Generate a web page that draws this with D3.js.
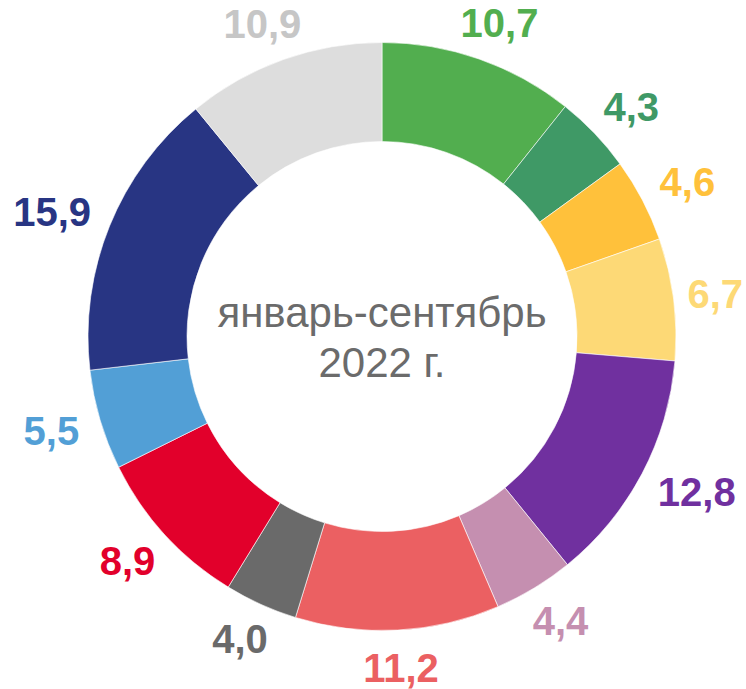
<!DOCTYPE html>
<html>
<head>
<meta charset="utf-8">
<script src="https://cdn.jsdelivr.net/npm/d3@7"></script>
<style>
  body { margin: 0; background: #fff; }
  svg { display: block; font-family: "Liberation Sans", Arial, sans-serif; }
</style>
</head>
<body>
<svg id="chart" width="746" height="689"></svg>
<script>
// shares, clockwise from 12 o'clock
const values = [10.7, 4.3, 4.6, 6.7, 12.8, 4.4, 11.2, 4.0, 8.9, 5.5, 15.9, 10.9];
const sliceColors = ["#52AE4F", "#3F9966", "#FFC13B", "#FDD976", "#70309F", "#C58FB0",
                     "#EB6062", "#6A6A6A", "#E2002B", "#529FD6", "#283583", "#DDDDDD"];
const labelColors = ["#52AE4F", "#3F9966", "#FFC13B", "#FDD976", "#70309F", "#C58FB0",
                     "#EB6062", "#6A6A6A", "#E2002B", "#529FD6", "#283583", "#C6C6C6"];
const centerLines = ["январь-сентябрь", "2022 г."];

const W = 746, H = 689;
const svg = d3.select("#chart");
const cx = 382, cy = 336.5;
const outerR = 294, innerR = 195, labelR = 317;

const g = svg.append("g").attr("transform", `translate(${cx},${cy})`);

const pie = d3.pie().sort(null).value(d => d);
const arcs = pie(values);

const arc = d3.arc().innerRadius(innerR).outerRadius(outerR);
const labelArc = d3.arc().innerRadius(labelR).outerRadius(labelR);

g.selectAll("path.slice")
  .data(arcs)
  .join("path")
    .attr("class", "slice")
    .attr("d", arc)
    .attr("fill", (d, i) => sliceColors[i])
    .attr("stroke", "#fff")
    .attr("stroke-width", 0.6);

const fmt = v => v.toFixed(1).replace(".", ",");

// labels sit outside the ring; the text box is pushed outward by half its size
const labels = g.selectAll("text.lbl")
  .data(arcs)
  .join("text")
    .attr("class", "lbl")
    .attr("text-anchor", "middle")
    .attr("dy", "0.35em")
    .attr("font-size", 40)
    .attr("font-weight", "bold")
    .attr("fill", (d, i) => labelColors[i])
    .text(d => fmt(d.data));

labels.attr("transform", function(d) {
  const [x, y] = labelArc.centroid(d);
  const a = (d.startAngle + d.endAngle) / 2;
  const hw = this.getComputedTextLength() / 2;
  const hh = 15;
  let lx = x + hw * Math.sin(a);
  let ly = y - hh * Math.cos(a);
  // keep inside the page
  lx = Math.max(-cx + hw + 3, Math.min(W - cx - hw - 3, lx));
  ly = Math.max(-cy + hh + 3, Math.min(H - cy - hh - 5, ly));
  return `translate(${lx},${ly})`;
});

// centre caption
g.selectAll("text.center")
  .data(centerLines)
  .join("text")
    .attr("class", "center")
    .attr("text-anchor", "middle")
    .attr("y", (d, i) => -9.5 + i * 50)
    .attr("font-size", 42)
    .attr("fill", "#6B6B6B")
    .text(d => d);
</script>
</body>
</html>
